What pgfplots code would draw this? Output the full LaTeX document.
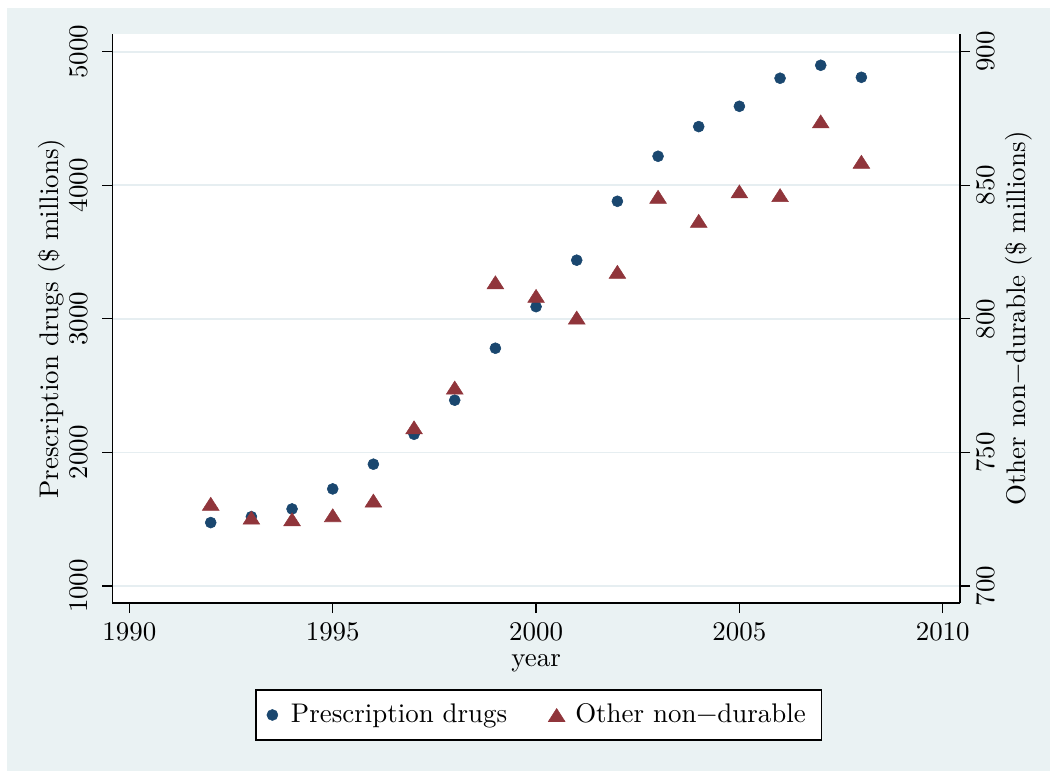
\documentclass[border=0pt]{standalone}
\usepackage{fontspec}
\usepackage{pgfplots}
\pgfplotsset{compat=1.18}
\definecolor{bgc}{HTML}{EAF2F3}
\definecolor{gridc}{HTML}{E6EEF1}
\definecolor{navy}{HTML}{1A476F}
\definecolor{maroon}{HTML}{90353B}
\pgfplotstableread{
year drugs
1992 1475
1993 1519
1994 1577
1995 1727
1996 1912
1997 2136
1998 2391
1999 2780
2000 3091
2001 3439
2002 3880
2003 4217
2004 4439
2005 4591
2006 4801
2007 4898
2008 4808
}\drugs
\pgfplotstableread{
year other
1992 730.8
1993 725.6
1994 725.0
1995 726.5
1996 732.0
1997 759.4
1998 774.3
1999 813.7
2000 808.6
2001 800.5
2002 817.6
2003 845.7
2004 836.7
2005 847.7
2006 846.3
2007 873.9
2008 858.8
}\other
\pgfplotsset{
  common/.style={
    at={(43.80pt,65.52pt)}, anchor=south west,
    scale only axis, width=330.6pt, height=221.8pt,
    xmin=1989.58, xmax=2010.425,
    axis line style={-, line width=0.5pt, black},
    every tick/.style={black, line width=0.5pt},
    major tick length=3.9pt, tick align=outside,
    /pgf/number format/1000 sep={},
    /pgf/number format/assume math mode=true,
    minor tick num=0,
  },
  dotmark/.style={only marks, mark=*, mark size=2.15pt, mark options={fill=navy, draw=navy, line width=0.2pt}},
  trimark/.style={only marks, mark=triangle*, mark size=3.38pt, mark options={fill=maroon, draw=maroon, line width=0.2pt, xscale=1.11, yshift=-0.85pt}},
}
\begin{document}
\fontsize{10.5}{12.6}\selectfont
\begin{tikzpicture}
\fill[white] (0,0) rectangle (409.5pt,300.69pt);
\fill[bgc] (2.85pt,0) rectangle (409.5pt,297.57pt);
\begin{axis}[common,
  ymin=873, ymax=5130,
  axis x line*=bottom, axis y line*=left,
  axis background/.style={fill=white},
  xtick={1990,1995,2000,2005,2010},
  ytick={1000,2000,3000,4000,5000},
  ymajorgrids, grid style={gridc, line width=0.7pt},
  xticklabel style={anchor=north, inner sep=0pt, yshift=-3.4pt},
  yticklabel style={xshift=-5.46pt, rotate=90, anchor=south, inner sep=0pt},
  xlabel={year}, ylabel={Prescription drugs (\$ millions)},
  every axis x label/.style={at={(axis description cs:0.5,-0.112)}, anchor=base},
  every axis y label/.style={at={(axis description cs:-0.0629,0.5)}, anchor=base, rotate=90},
]
\addplot[dotmark] table[x=year, y=drugs] {\drugs};
\end{axis}
\begin{axis}[common,
  ymin=693.65, ymax=906.5,
  axis x line=none, axis y line*=right,
  ytick={700,750,800,850,900},
  yticklabel style={xshift=2.3pt, rotate=90, anchor=north, inner sep=0pt},
  ylabel={Other non−durable (\$ millions)},
  every axis y label/.style={at={(axis description cs:1.0767,0.5)}, anchor=base, rotate=90},
  legend columns=2,
  legend style={at={(axis description cs:0.5028,-0.1969)}, anchor=center,
    draw=black, line width=0.5pt, fill=white, inner xsep=4pt, inner ysep=3.3pt,
    nodes={inner sep=2pt, text depth=0.15em},
    /tikz/every even column/.append style={column sep=14pt}},
  legend image code/.code={\path (-2.2pt,0) (5pt,0); \draw[#1] plot coordinates {(0pt,0pt)};},
]
\addlegendimage{dotmark}
\addlegendentry{Prescription drugs}
\addplot[trimark] table[x=year, y=other] {\other};
\addlegendentry{Other non−durable}
\end{axis}
\end{tikzpicture}
\end{document}
